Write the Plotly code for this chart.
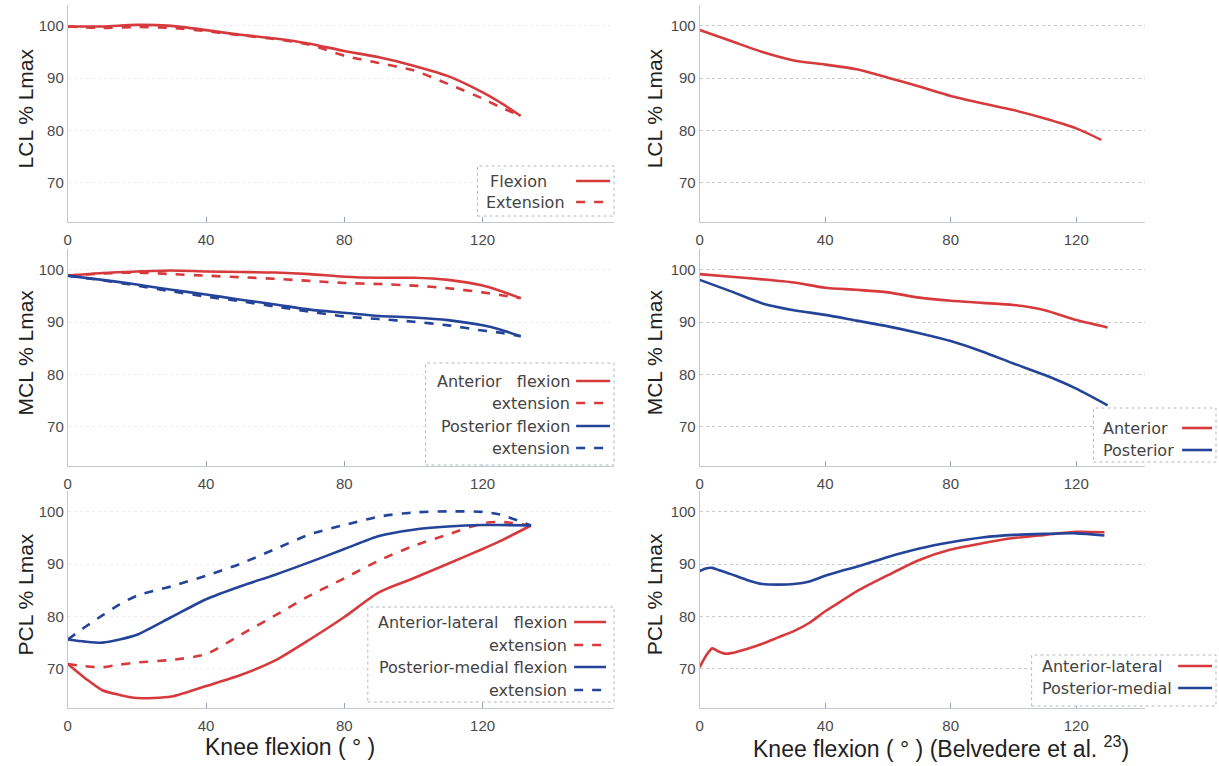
import plotly.graph_objects as go
from plotly.subplots import make_subplots

# ---------------- data ----------------
# LCL (this study)
lcl_x = [0, 10, 20, 30, 40, 50, 60, 70, 80, 90, 100, 110, 120, 125, 131]
lcl_flexion = [99.9, 99.9, 100.2, 100.0, 99.2, 98.3, 97.6, 96.6, 95.2, 94.0, 92.4, 90.4, 87.3, 85.4, 82.8]
lcl_extension = [99.9, 99.6, 99.8, 99.6, 99.0, 98.2, 97.5, 96.4, 94.3, 92.9, 91.5, 88.9, 86.1, 84.5, 82.8]

# LCL (Belvedere et al.)
lclb_x = [0, 10, 20, 30, 40, 50, 60, 70, 80, 90, 100, 110, 120, 128]
lclb_y = [99.2, 97.1, 95.0, 93.4, 92.6, 91.7, 90.1, 88.4, 86.6, 85.2, 83.9, 82.3, 80.4, 78.2]

# MCL (this study)
mcl_x = [0, 10, 20, 30, 40, 50, 60, 70, 80, 90, 100, 110, 120, 125, 131]
mcl_ant_flexion = [98.9, 99.4, 99.7, 99.9, 99.7, 99.6, 99.5, 99.2, 98.7, 98.5, 98.5, 98.1, 97.0, 96.0, 94.6]
mcl_ant_extension = [98.9, 99.3, 99.5, 99.2, 98.9, 98.6, 98.3, 97.9, 97.5, 97.3, 97.0, 96.5, 95.7, 95.2, 94.6]
mcl_post_flexion = [98.9, 98.1, 97.2, 96.2, 95.3, 94.3, 93.4, 92.4, 91.8, 91.2, 90.9, 90.4, 89.4, 88.6, 87.3]
mcl_post_extension = [98.9, 98.0, 97.0, 95.9, 94.9, 94.0, 93.0, 92.0, 91.1, 90.6, 90.1, 89.4, 88.4, 88.0, 87.3]

# MCL (Belvedere et al.)
mclb_x = [0, 10, 20, 30, 40, 50, 60, 70, 80, 90, 100, 110, 120, 130]
mclb_anterior = [99.2, 98.7, 98.2, 97.6, 96.6, 96.2, 95.7, 94.7, 94.1, 93.7, 93.3, 92.3, 90.4, 89.0]
mclb_posterior = [98.1, 95.9, 93.6, 92.3, 91.4, 90.3, 89.2, 87.9, 86.4, 84.4, 82.1, 79.9, 77.3, 74.1]

# PCL (this study)
pcl_x = [0, 5, 10, 15, 20, 30, 40, 50, 60, 70, 80, 90, 100, 110, 120, 125, 134]
pcl_al_flexion = [70.9, 68.2, 65.9, 65.0, 64.4, 64.7, 66.7, 68.8, 71.6, 75.6, 79.9, 84.6, 87.3, 90.1, 92.9, 94.4, 97.4]
pcl_al_extension = [70.9, 70.5, 70.3, 70.8, 71.2, 71.7, 72.8, 76.5, 80.2, 84.0, 87.3, 90.7, 93.5, 95.7, 97.8, 98.1, 97.4]
pcl_pm_flexion = [75.6, 75.2, 75.0, 75.6, 76.5, 79.9, 83.3, 85.8, 88.0, 90.4, 92.9, 95.4, 96.6, 97.2, 97.5, 97.5, 97.4]
pcl_pm_extension = [75.6, 78.0, 80.2, 82.3, 84.0, 85.8, 87.8, 90.1, 92.9, 95.7, 97.5, 99.1, 99.9, 100.1, 100.0, 99.5, 97.4]

# PCL (Belvedere et al.)
pclb_x = [0, 2, 4, 6, 8, 10, 15, 20, 25, 30, 35, 40, 45, 50, 60, 70, 80, 90, 100, 110, 120, 129]
pclb_al = [70.3, 72.5, 73.9, 73.3, 72.9, 73.0, 73.8, 74.8, 76.0, 77.2, 78.8, 81.0, 82.9, 84.8, 87.9, 90.8, 92.8, 94.0, 95.0, 95.6, 96.2, 96.1]
pclb_pm = [88.7, 89.2, 89.3, 88.9, 88.5, 88.1, 87.0, 86.2, 86.1, 86.2, 86.7, 87.8, 88.7, 89.5, 91.4, 93.0, 94.2, 95.1, 95.6, 95.8, 95.9, 95.5]

x_ticks = [0, 40, 80, 120]
y_ticks = [70, 80, 90, 100]
y_titles = ["LCL % Lmax", "MCL % Lmax", "PCL % Lmax"]
x_title_left = "Knee flexion ( ° )"
x_title_right = "Knee flexion ( ° ) (Belvedere et al. <sup>23</sup>)"

RED = "#d63a3c"
BLUE = "#24449a"
W, H = 1219, 766

fig = make_subplots(rows=3, cols=2)

def add(row, col, x, y, color, dash="solid"):
    fig.add_trace(go.Scatter(x=x, y=y, mode="lines", showlegend=False,
                             line=dict(color=color, width=2.6, dash=dash, shape="spline", smoothing=0.7)),
                  row=row, col=col)

add(1, 1, lcl_x, lcl_extension, RED, "dash")
add(1, 1, lcl_x, lcl_flexion, RED)
add(1, 2, lclb_x, lclb_y, RED)
add(2, 1, mcl_x, mcl_ant_extension, RED, "dash")
add(2, 1, mcl_x, mcl_ant_flexion, RED)
add(2, 1, mcl_x, mcl_post_extension, BLUE, "dash")
add(2, 1, mcl_x, mcl_post_flexion, BLUE)
add(2, 2, mclb_x, mclb_anterior, RED)
add(2, 2, mclb_x, mclb_posterior, BLUE)
add(3, 1, pcl_x, pcl_al_flexion, RED)
add(3, 1, pcl_x, pcl_al_extension, RED, "dash")
add(3, 1, pcl_x, pcl_pm_flexion, BLUE)
add(3, 1, pcl_x, pcl_pm_extension, BLUE, "dash")
add(3, 2, pclb_x, pclb_al, RED)
add(3, 2, pclb_x, pclb_pm, BLUE)

def px(x):
    return x / W

def py(y):
    return 1 - y / H

# plot area pixel boxes
col_x = {1: (64, 612), 2: (698, 1145)}
col_range = {1: [0, 158], 2: [0, 142]}
row_y = {1: (5, 222), 2: (249, 466), 3: (491, 708)}

tickfont = dict(family="Liberation Sans, Arial, sans-serif", size=15, color="#4a4a4a")
for r in (1, 2, 3):
    for c in (1, 2):
        fig.update_xaxes(row=r, col=c, domain=[px(col_x[c][0]), px(col_x[c][1])],
                         range=col_range[c], tickvals=x_ticks, ticks="inside", ticklen=5,
                         tickcolor="#9aa0b0", showline=True, linecolor="#c4c8d2", linewidth=1,
                         showgrid=False, zeroline=False, tickfont=tickfont, ticklabelstandoff=4)
        fig.update_yaxes(row=r, col=c, domain=[py(row_y[r][1]), py(row_y[r][0])],
                         range=[62.5, 104], tickvals=y_ticks, ticks="", showline=True,
                         linecolor="#c4c8d2", linewidth=1, zeroline=False, tickfont=tickfont,
                         showgrid=True, gridcolor="#c9cbd3" if c == 2 else "#eceef2",
                         griddash="dot", gridwidth=1)

titlefont = dict(family="Liberation Sans, Arial, sans-serif", size=21, color="#222")
annotations = []
for r, t in zip((1, 2, 3), y_titles):
    yc = (row_y[r][0] + row_y[r][1]) / 2 - 5
    for xc in (22, 653):
        annotations.append(dict(x=px(xc), y=py(yc), xref="paper", yref="paper", text=t,
                                textangle=-90, showarrow=False, font=titlefont,
                                xanchor="center", yanchor="middle"))
annotations.append(dict(x=px(287), y=py(747), xref="paper", yref="paper", text=x_title_left,
                        showarrow=False, font=dict(family="Liberation Sans, Arial, sans-serif", size=23, color="#222"),
                        xanchor="center", yanchor="middle"))
annotations.append(dict(x=px(940), y=py(747), xref="paper", yref="paper", text=x_title_right,
                        showarrow=False, font=dict(family="Liberation Sans, Arial, sans-serif", size=23, color="#222"),
                        xanchor="center", yanchor="middle"))

shapes = []
legfont = dict(family="DejaVu Sans, Verdana, sans-serif", size=16, color="#444")

def legend(box, rows, align):
    x0, y0, x1, y1 = box
    shapes.append(dict(type="rect", xref="paper", yref="paper", x0=px(x0), x1=px(x1),
                       y0=py(y1), y1=py(y0), line=dict(color="#b5b8c2", width=1, dash="dot"),
                       fillcolor="white", layer="above"))
    for (text, tx, yy, color, dash, lx0, lx1) in rows:
        annotations.append(dict(x=px(tx), y=py(yy), xref="paper", yref="paper", text=text,
                                showarrow=False, font=legfont, xanchor=align, yanchor="middle"))
        shapes.append(dict(type="line", xref="paper", yref="paper", x0=px(lx0), x1=px(lx1),
                           y0=py(yy), y1=py(yy), line=dict(color=color, width=2.6, dash=dash),
                           layer="above"))

legend((475, 166, 612, 216), [
    ("Flexion", 486, 181, RED, "solid", 574, 608),
    ("Extension", 482, 202, RED, "dash", 574, 608)], "left")
legend((423, 363, 612, 465), [
    ("Anterior   flexion", 570, 381, RED, "solid", 574, 608),
    ("extension", 570, 403, RED, "dash", 574, 608),
    ("Posterior flexion", 570, 426, BLUE, "solid", 574, 608),
    ("extension", 570, 448, BLUE, "dash", 574, 608)], "right")
legend((365, 607, 612, 702), [
    ("Anterior-lateral   flexion", 567, 622, RED, "solid", 572, 604),
    ("extension", 567, 645, RED, "dash", 572, 604),
    ("Posterior-medial flexion", 567, 667, BLUE, "solid", 572, 604),
    ("extension", 567, 690, BLUE, "dash", 572, 604)], "right")
legend((1093, 408, 1216, 462), [
    ("Anterior", 1101, 428, RED, "solid", 1182, 1212),
    ("Posterior", 1101, 450, BLUE, "solid", 1182, 1212)], "left")
legend((1031, 655, 1216, 706), [
    ("Anterior-lateral", 1039, 666, RED, "solid", 1178, 1212),
    ("Posterior-medial", 1039, 688, BLUE, "solid", 1178, 1212)], "left")

fig.update_layout(width=W, height=H, margin=dict(l=0, r=0, t=0, b=0),
                  paper_bgcolor="white", plot_bgcolor="white",
                  annotations=annotations, shapes=shapes, showlegend=False)

fig.write_html("out.html", config={"displayModeBar": False},
               post_script="document.body.style.margin='0';document.body.style.overflow='hidden';")
